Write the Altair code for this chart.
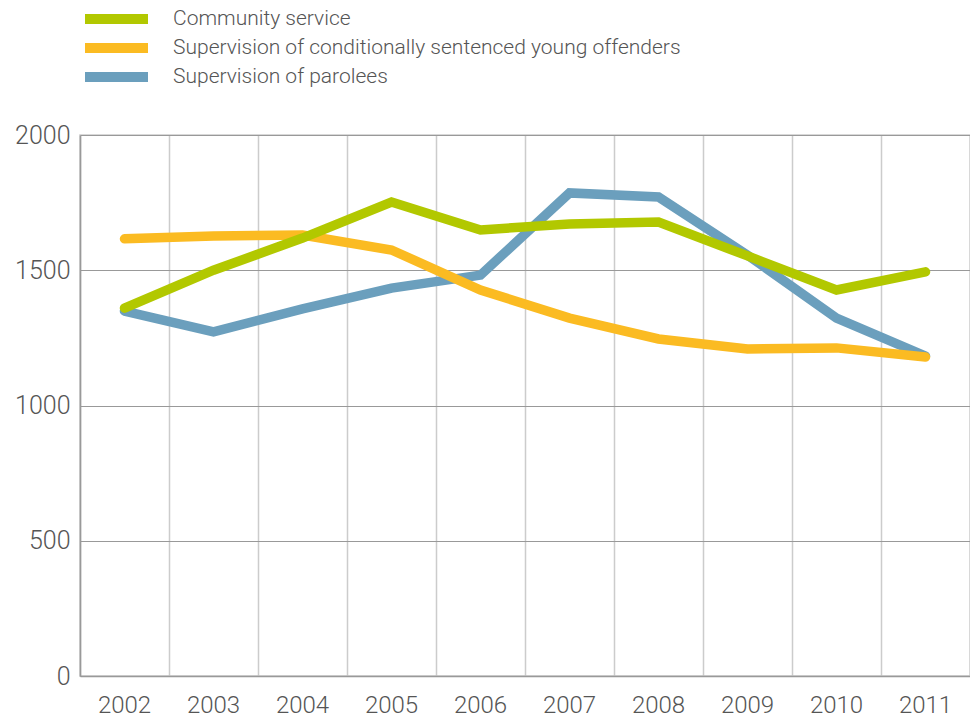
import altair as alt
import pandas as pd

years = ["2002", "2003", "2004", "2005", "2006", "2007", "2008", "2009", "2010", "2011"]
series_names = [
    "Community service",
    "Supervision of conditionally sentenced young offenders",
    "Supervision of parolees",
]
community_service = [1360, 1500, 1619, 1752, 1649, 1671, 1678, 1553, 1427, 1494]
young_offenders = [1616, 1627, 1630, 1575, 1427, 1323, 1246, 1209, 1213, 1179]
parolees = [1349, 1272, 1357, 1434, 1482, 1786, 1771, 1556, 1323, 1183]
colors = ["#b2c800", "#fbbb22", "#6b9fbd"]
y_ticks = [0, 500, 1000, 1500, 2000]

rows = []
# drawing order: parolees first, then young offenders, then community service on top
for name, vals in [(series_names[2], parolees), (series_names[1], young_offenders), (series_names[0], community_service)]:
    for y, v in zip(years, vals):
        rows.append({"year": y, "value": v, "series": name})
df = pd.DataFrame(rows)

FONT = "Roboto"

chart = alt.Chart(df).mark_line(strokeWidth=9.5, strokeCap="round").encode(
    x=alt.X("year:O", sort=years, title=None,
            scale=alt.Scale(type="band", paddingInner=0, paddingOuter=0),
            axis=alt.Axis(bandPosition=0, labelAngle=0, ticks=False,
                          grid=True, gridColor="#cccccc", gridWidth=1.5,
                          domain=True, domainColor="#999999", domainWidth=1.5,
                          labelFontSize=24, labelColor="#555555", labelPadding=17,
                          labelFont=FONT, labelFontWeight=300)),
    y=alt.Y("value:Q", title=None,
            scale=alt.Scale(domain=[0, 2000], nice=False),
            axis=alt.Axis(values=y_ticks, format="d", ticks=False, grid=True, gridColor="#999999",
                          gridWidth=1, domain=True, domainColor="#999999", domainWidth=1.5,
                          labelFontSize=25, labelColor="#555555", labelPadding=10,
                          labelFont=FONT, labelFontWeight=300)),
    color=alt.Color("series:N",
                    scale=alt.Scale(domain=series_names, range=colors),
                    legend=alt.Legend(title=None, orient="none", legendX=0, legendY=-126,
                                      symbolType="stroke", symbolSize=3969, symbolStrokeWidth=10,
                                      labelFontSize=21, labelColor="#555555", labelFont=FONT,
                                      labelFontWeight=300, labelLimit=0, clipHeight=20,
                                      labelOffset=20, rowPadding=8, direction="vertical")),
).properties(
    width=890, height=541,
    autosize=alt.AutoSizeParams(type="none"),
    padding={"left": 80, "top": 135, "right": 0, "bottom": 44},
).configure_view(stroke="#cccccc", strokeWidth=1.5)

chart.save("out.html", embed_options={"renderer": "svg", "actions": False})
